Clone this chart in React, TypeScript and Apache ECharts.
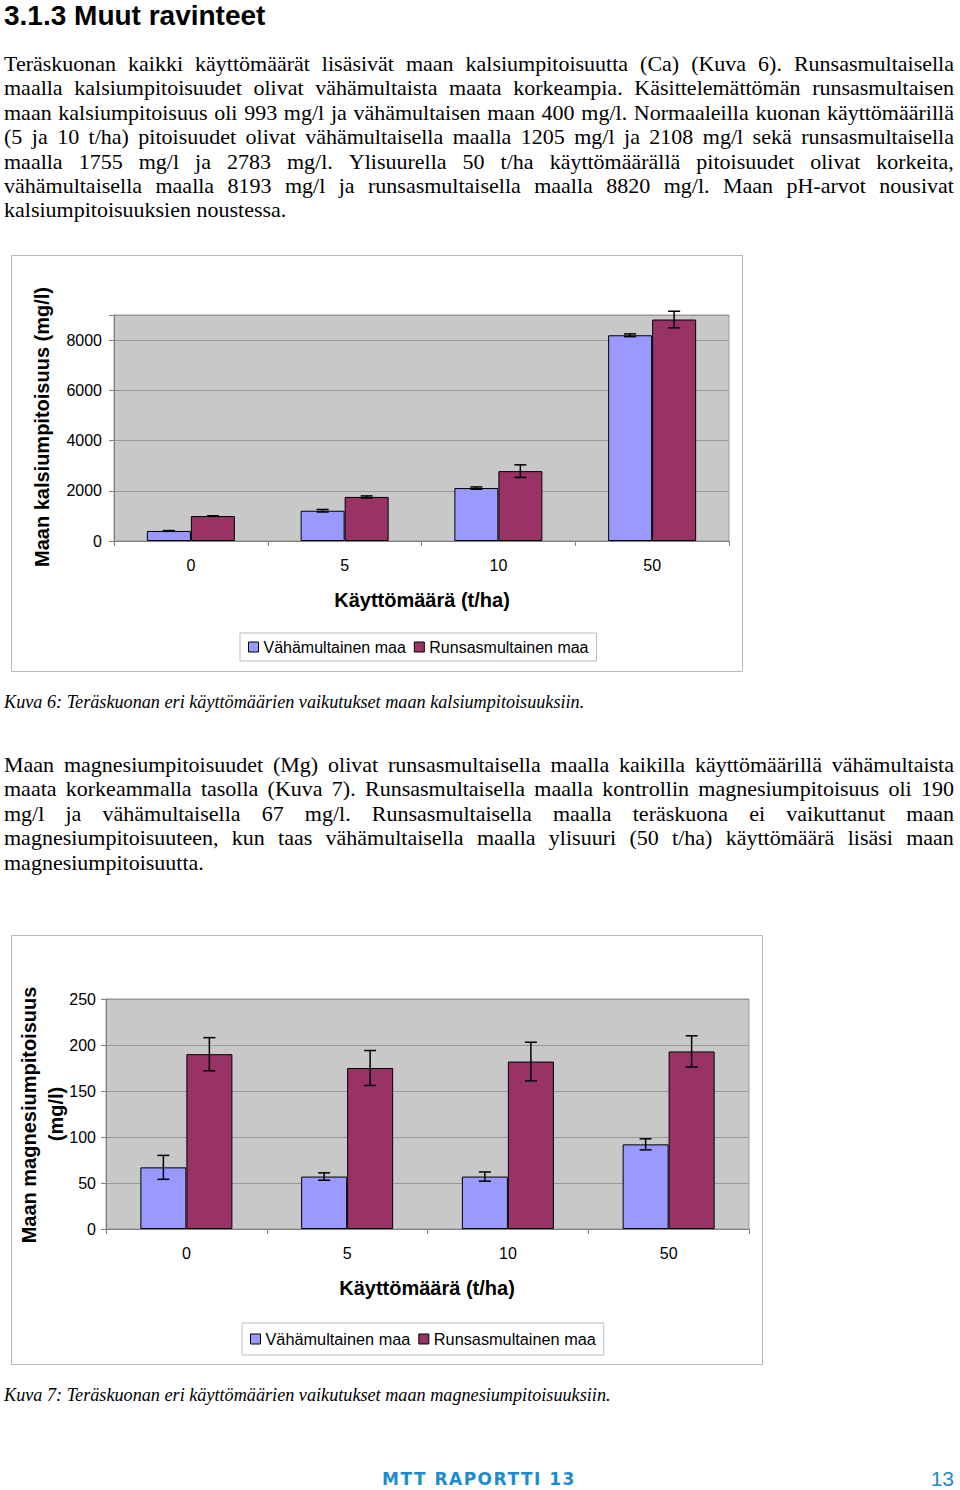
import React, { useEffect, useRef } from "react";
import * as echarts from "echarts";

const categories = ["0", "5", "10", "50"];
const seriesNames = ["Vähämultainen maa", "Runsasmultainen maa"];
const caLow = [400, 1205, 2108, 8193];
const caHigh = [993, 1755, 2783, 8820];
const caLowErr = [15, 50, 45, 55];
const caHighErr = [10, 40, 250, 330];
const mgLow = [67, 57, 57, 92];
const mgHigh = [190, 175, 182, 193];
const mgLowErr = [13, 4, 5, 6];
const mgHighErr = [18, 19, 21, 17];

const heading = "3.1.3 Muut ravinteet";
const para1 = [
  "Teräskuonan kaikki käyttömäärät lisäsivät maan kalsiumpitoisuutta (Ca) (Kuva 6). Runsasmultaisella",
  "maalla kalsiumpitoisuudet olivat vähämultaista maata korkeampia. Käsittelemättömän runsasmultaisen",
  "maan kalsiumpitoisuus oli 993 mg/l ja vähämultaisen maan 400 mg/l. Normaaleilla kuonan käyttömäärillä",
  "(5 ja 10 t/ha) pitoisuudet olivat vähämultaisella maalla 1205 mg/l ja 2108 mg/l sekä runsasmultaisella",
  "maalla 1755 mg/l ja 2783 mg/l. Ylisuurella 50 t/ha käyttömäärällä pitoisuudet olivat korkeita,",
  "vähämultaisella maalla 8193 mg/l ja runsasmultaisella maalla 8820 mg/l. Maan pH-arvot nousivat",
  "kalsiumpitoisuuksien noustessa.",
];
const para2 = [
  "Maan magnesiumpitoisuudet (Mg) olivat runsasmultaisella maalla kaikilla käyttömäärillä vähämultaista",
  "maata korkeammalla tasolla (Kuva 7). Runsasmultaisella maalla kontrollin magnesiumpitoisuus oli 190",
  "mg/l ja vähämultaisella 67 mg/l. Runsasmultaisella maalla teräskuona ei vaikuttanut maan",
  "magnesiumpitoisuuteen, kun taas vähämultaisella maalla ylisuuri (50 t/ha) käyttömäärä lisäsi maan",
  "magnesiumpitoisuutta.",
];
const caption1 = "Kuva 6: Teräskuonan eri käyttömäärien vaikutukset maan kalsiumpitoisuuksiin.";
const caption2 = "Kuva 7: Teräskuonan eri käyttömäärien vaikutukset maan magnesiumpitoisuuksiin.";
const xTitle = "Käyttömäärä (t/ha)";
const yTitle1 = "Maan kalsiumpitoisuus (mg/l)";
const yTitle2a = "Maan magnesiumpitoisuus";
const yTitle2b = "(mg/l)";
const footerLeft = "MTT RAPORTTI 13";
const footerRight = "13";

const BLUE = "#9999ff";
const RED = "#993366";
const SANS = "'Liberation Sans', Arial, sans-serif";
const SERIF = "'Liberation Serif', 'Times New Roman', serif";

function errorSeries(values: number[], errs: number[], offset: number, cap: number) {
  return {
    type: "custom",
    z: 5,
    silent: true,
    data: values.map((v, i) => [i, v, errs[i]]),
    encode: { x: 0, y: 1 },
    renderItem: (params: any, api: any) => {
      const i = api.value(0);
      const v = api.value(1);
      const e = api.value(2);
      const top = api.coord([i, v + e]);
      const bot = api.coord([i, v - e]);
      const x = top[0] + offset;
      const style = { stroke: "#000", lineWidth: 1.5 };
      return {
        type: "group",
        children: [
          { type: "line", shape: { x1: x, y1: top[1], x2: x, y2: bot[1] }, style },
          { type: "line", shape: { x1: x - cap, y1: top[1], x2: x + cap, y2: top[1] }, style },
          { type: "line", shape: { x1: x - cap, y1: bot[1], x2: x + cap, y2: bot[1] }, style },
        ],
      };
    },
  };
}

type ChartCfg = {
  w: number;
  h: number;
  grid: { left: number; right: number; top: number; bottom: number };
  low: number[];
  high: number[];
  lowErr: number[];
  highErr: number[];
  barWidth: number;
  max: number;
  interval: number;
  labelMargin: number;
  legend: { left: number; top: number; padding: number[]; fontSize: number };
  xTitlePos: [number, number];
  yTitles: { text: string; x: number; y: number }[];
};

function buildOption(c: ChartCfg) {
  return {
    animation: false,
    textStyle: { fontFamily: SANS },
    grid: {
      ...c.grid,
      show: true,
      backgroundColor: "#c8c8c8",
      borderColor: "#999",
      borderWidth: 1,
    },
    legend: {
      data: seriesNames,
      left: c.legend.left,
      top: c.legend.top,
      padding: c.legend.padding,
      orient: "horizontal",
      icon: "rect",
      itemWidth: 10,
      itemHeight: 10,
      itemGap: 8,
      borderColor: "#bbb",
      borderWidth: 1,
      itemStyle: { borderColor: "#000", borderWidth: 1 },
      textStyle: { fontSize: c.legend.fontSize, color: "#000", fontFamily: SANS },
    },
    xAxis: {
      type: "category",
      data: categories,
      axisLine: { lineStyle: { color: "#808080", width: 1 } },
      axisTick: { show: true, length: 5, lineStyle: { color: "#808080" } },
      axisLabel: { fontSize: 16, color: "#000", margin: 16 },
    },
    yAxis: {
      type: "value",
      min: 0,
      max: c.max,
      interval: c.interval,
      axisLine: { show: true, lineStyle: { color: "#808080" } },
      axisTick: { show: true, length: 5, lineStyle: { color: "#808080" } },
      axisLabel: {
        fontSize: 16,
        color: "#000",
        margin: c.labelMargin,
        formatter: (v: number) => (v % c.interval === 0 ? String(v) : ""),
      },
      splitLine: { show: true, lineStyle: { color: "#999", width: 1 } },
    },
    graphic: [
      {
        type: "rect",
        shape: { x: 0.5, y: 0.5, width: c.w - 1, height: c.h - 1 },
        style: { fill: "none", stroke: "#b8b8b8", lineWidth: 1 },
        silent: true,
      },
      {
        type: "text",
        x: c.xTitlePos[0],
        y: c.xTitlePos[1],
        style: {
          text: xTitle,
          fontSize: 20,
          fontWeight: "bold",
          fontFamily: SANS,
          fill: "#000",
          align: "center",
          verticalAlign: "middle",
        },
      },
      ...c.yTitles.map((t) => ({
        type: "text",
        x: t.x,
        y: t.y,
        rotation: Math.PI / 2,
        style: {
          text: t.text,
          fontSize: 20,
          fontWeight: "bold",
          fontFamily: SANS,
          fill: "#000",
          align: "center",
          verticalAlign: "middle",
        },
      })),
    ],
    series: [
      {
        name: seriesNames[0],
        type: "bar",
        data: c.low,
        barWidth: c.barWidth,
        barGap: "0%",
        itemStyle: { color: BLUE, borderColor: "#000", borderWidth: 1 },
      },
      {
        name: seriesNames[1],
        type: "bar",
        data: c.high,
        barWidth: c.barWidth,
        barGap: "0%",
        itemStyle: { color: RED, borderColor: "#000", borderWidth: 1 },
      },
      errorSeries(c.low, c.lowErr, -c.barWidth / 2, 6),
      errorSeries(c.high, c.highErr, c.barWidth / 2, 6),
    ],
  };
}

const chart1: ChartCfg = {
  w: 732,
  h: 417,
  grid: { left: 103, right: 14, top: 60, bottom: 131 },
  low: caLow,
  high: caHigh,
  lowErr: caLowErr,
  highErr: caHighErr,
  barWidth: 44,
  max: 9000,
  interval: 2000,
  labelMargin: 12,
  legend: { left: 229, top: 378, padding: [6, 8, 6, 8], fontSize: 16 },
  xTitlePos: [411, 345],
  yTitles: [{ text: yTitle1, x: 31, y: 172 }],
};

const chart2: ChartCfg = {
  w: 752,
  h: 430,
  grid: { left: 95, right: 14, top: 64, bottom: 136 },
  low: mgLow,
  high: mgHigh,
  lowErr: mgLowErr,
  highErr: mgHighErr,
  barWidth: 46,
  max: 250,
  interval: 50,
  labelMargin: 10,
  legend: { left: 231, top: 388, padding: [8, 8, 8, 8], fontSize: 16.3 },
  xTitlePos: [416, 353],
  yTitles: [
    { text: yTitle2a, x: 18, y: 180 },
    { text: yTitle2b, x: 45, y: 179 },
  ],
};

function Chart({ cfg, left, top }: { cfg: ChartCfg; left: number; top: number }) {
  const ref = useRef<HTMLDivElement>(null);
  useEffect(() => {
    if (!ref.current) return;
    const inst = echarts.init(ref.current, undefined, { renderer: "svg" });
    inst.setOption(buildOption(cfg) as any);
    return () => inst.dispose();
  }, [cfg]);
  return (
    <div
      ref={ref}
      style={{ position: "absolute", left, top, width: cfg.w, height: cfg.h }}
    />
  );
}

function Para({ lines, top }: { lines: string[]; top: number }) {
  const lh = 24.4;
  return (
    <>
      {lines.map((ln, i) => {
        const justify = i < lines.length - 1;
        const words = ln.split(" ");
        return (
          <div
            key={i}
            style={{
              position: "absolute",
              left: 4,
              width: 950,
              top: top + i * lh - 12,
              height: 24,
              lineHeight: "24px",
              fontFamily: SERIF,
              fontSize: 22,
              color: "#000",
              whiteSpace: "nowrap",
              display: "flex",
              justifyContent: justify ? "space-between" : "flex-start",
            }}
          >
            {justify
              ? words.map((w, j) => <span key={j}>{w}</span>)
              : <span>{ln}</span>}
          </div>
        );
      })}
    </>
  );
}

export default function App() {
  return (
    <div
      style={{
        position: "absolute",
        left: 0,
        top: 0,
        width: 960,
        height: 1490,
        background: "#fff",
        overflow: "hidden",
      }}
    >
      <div
        style={{
          position: "absolute",
          left: 4,
          top: 0,
          fontFamily: SANS,
          fontWeight: "bold",
          fontSize: 28,
          lineHeight: "32px",
          color: "#000",
          whiteSpace: "nowrap",
        }}
      >
        {heading}
      </div>
      <Para lines={para1} top={64} />
      <Chart cfg={chart1} left={11} top={255} />
      <div
        style={{
          position: "absolute",
          left: 4,
          top: 692,
          fontFamily: SERIF,
          fontStyle: "italic",
          fontSize: 18.2,
          lineHeight: "20px",
          whiteSpace: "nowrap",
        }}
      >
        {caption1}
      </div>
      <Para lines={para2} top={765} />
      <Chart cfg={chart2} left={11} top={935} />
      <div
        style={{
          position: "absolute",
          left: 4,
          top: 1385,
          fontFamily: SERIF,
          fontStyle: "italic",
          fontSize: 18.2,
          lineHeight: "20px",
          whiteSpace: "nowrap",
        }}
      >
        {caption2}
      </div>
      <div
        style={{
          position: "absolute",
          left: 382,
          top: 1469,
          fontFamily: "'DejaVu Sans', sans-serif",
          fontWeight: "bold",
          fontSize: 17,
          letterSpacing: "1.5px",
          lineHeight: "20px",
          color: "#1a8ccf",
          whiteSpace: "nowrap",
        }}
      >
        {footerLeft}
      </div>
      <div
        style={{
          position: "absolute",
          right: 6,
          top: 1468,
          fontFamily: SANS,
          fontSize: 21,
          lineHeight: "21px",
          color: "#1a8ccf",
          whiteSpace: "nowrap",
        }}
      >
        {footerRight}
      </div>
    </div>
  );
}
